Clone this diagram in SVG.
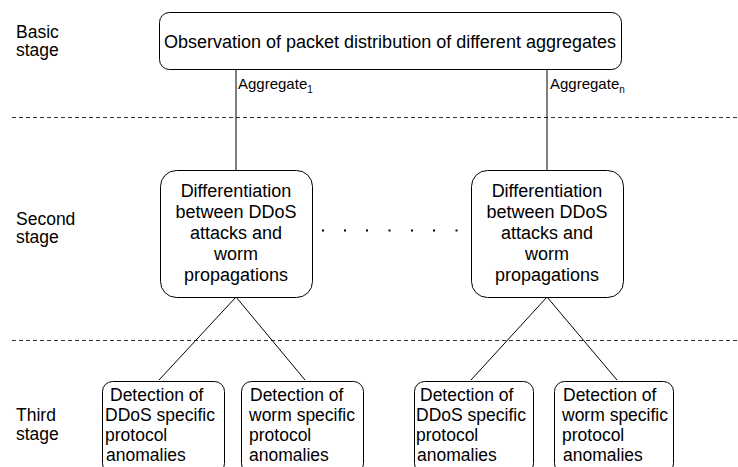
<svg xmlns="http://www.w3.org/2000/svg" width="738" height="467" viewBox="0 0 738 467">
<style>
text{font-family:"Liberation Sans",Arial,sans-serif;fill:#000}
.box{fill:#fff;stroke:#000;stroke-width:1}
.lbl{font-size:17.5px}
.main{font-size:18px}
.c{text-anchor:middle}
.small{font-size:17.5px}
.agg{font-size:15px}
.sub{font-size:10px}
.dash{stroke:#333;stroke-width:1;stroke-dasharray:4 3;fill:none}
.conn{stroke:#000;stroke-width:1;fill:none}
</style>
<rect width="738" height="467" fill="#fff"/>
<g id="separators">
<line class="dash" x1="12" y1="117.5" x2="738" y2="117.5"/>
<line class="dash" x1="12" y1="340.5" x2="738" y2="340.5"/>
</g>
<g id="stage-labels">
<text class="lbl" x="16" y="38">Basic</text>
<text class="lbl" x="16" y="56">stage</text>
<text class="lbl" x="16" y="225">Second</text>
<text class="lbl" x="16" y="243">stage</text>
<text class="lbl" x="16" y="421">Third</text>
<text class="lbl" x="16" y="440">stage</text>
</g>
<g id="connectors">
<line class="conn" x1="236" y1="70" x2="236" y2="170"/>
<line class="conn" x1="547" y1="70" x2="547" y2="170"/>
<line class="conn" x1="236" y1="297" x2="159" y2="380"/>
<line class="conn" x1="236" y1="297" x2="305" y2="380"/>
<line class="conn" x1="547" y1="297" x2="471" y2="380"/>
<line class="conn" x1="547" y1="297" x2="617" y2="380"/>
<text class="agg" x="238" y="89">Aggregate<tspan class="sub" dy="4">1</tspan></text>
<text class="agg" x="550" y="89">Aggregate<tspan class="sub" dy="4">n</tspan></text>
</g>
<g id="observation">
<rect class="box" x="159.5" y="12.5" width="462" height="57" rx="10"/>
<text class="main c" x="390" y="48">Observation of packet distribution of different aggregates</text>
</g>
<g id="diff1">
<rect class="box" x="160.5" y="170.5" width="152" height="127" rx="16"/>
<text class="main c" x="236"><tspan x="236" y="197">Differentiation</tspan><tspan x="236" y="218">between DDoS</tspan><tspan x="236" y="239">attacks and</tspan><tspan x="236" y="260">worm</tspan><tspan x="236" y="281">propagations</tspan></text>
</g>
<g id="ellipsis">
<rect x="322" y="229.5" width="2" height="2"/>
<rect x="344" y="229.5" width="2" height="2"/>
<rect x="366" y="229.5" width="2" height="2"/>
<rect x="388.5" y="229.5" width="2" height="2"/>
<rect x="411" y="229.5" width="2" height="2"/>
<rect x="433" y="229.5" width="2" height="2"/>
<rect x="455.5" y="229.5" width="2" height="2"/>
</g>
<g id="diff2">
<rect class="box" x="471.5" y="170.5" width="152" height="127" rx="16"/>
<text class="main c" x="547"><tspan x="547" y="197">Differentiation</tspan><tspan x="547" y="218">between DDoS</tspan><tspan x="547" y="239">attacks and</tspan><tspan x="547" y="260">worm</tspan><tspan x="547" y="281">propagations</tspan></text>
</g>
<g id="ddos1">
<rect class="box" x="102.5" y="381.5" width="122" height="92" rx="10"/>
<text class="small"><tspan x="110" y="401">Detection of</tspan><tspan x="105" y="421">DDoS specific</tspan><tspan x="105" y="441">protocol</tspan><tspan x="106" y="461">anomalies</tspan></text>
</g>
<g id="worm1">
<rect class="box" x="241.5" y="381.5" width="122" height="92" rx="10"/>
<text class="small"><tspan x="250" y="401">Detection of</tspan><tspan x="249" y="421">worm specific</tspan><tspan x="249" y="441">protocol</tspan><tspan x="249" y="461">anomalies</tspan></text>
</g>
<g id="ddos2">
<rect class="box" x="414.5" y="381.5" width="119" height="92" rx="10"/>
<text class="small"><tspan x="420" y="401">Detection of</tspan><tspan x="416" y="421">DDoS specific</tspan><tspan x="416" y="441">protocol</tspan><tspan x="417" y="461">anomalies</tspan></text>
</g>
<g id="worm2">
<rect class="box" x="554.5" y="381.5" width="119" height="92" rx="10"/>
<text class="small"><tspan x="563" y="401">Detection of</tspan><tspan x="562" y="421">worm specific</tspan><tspan x="562" y="441">protocol</tspan><tspan x="563" y="461">anomalies</tspan></text>
</g>
</svg>
